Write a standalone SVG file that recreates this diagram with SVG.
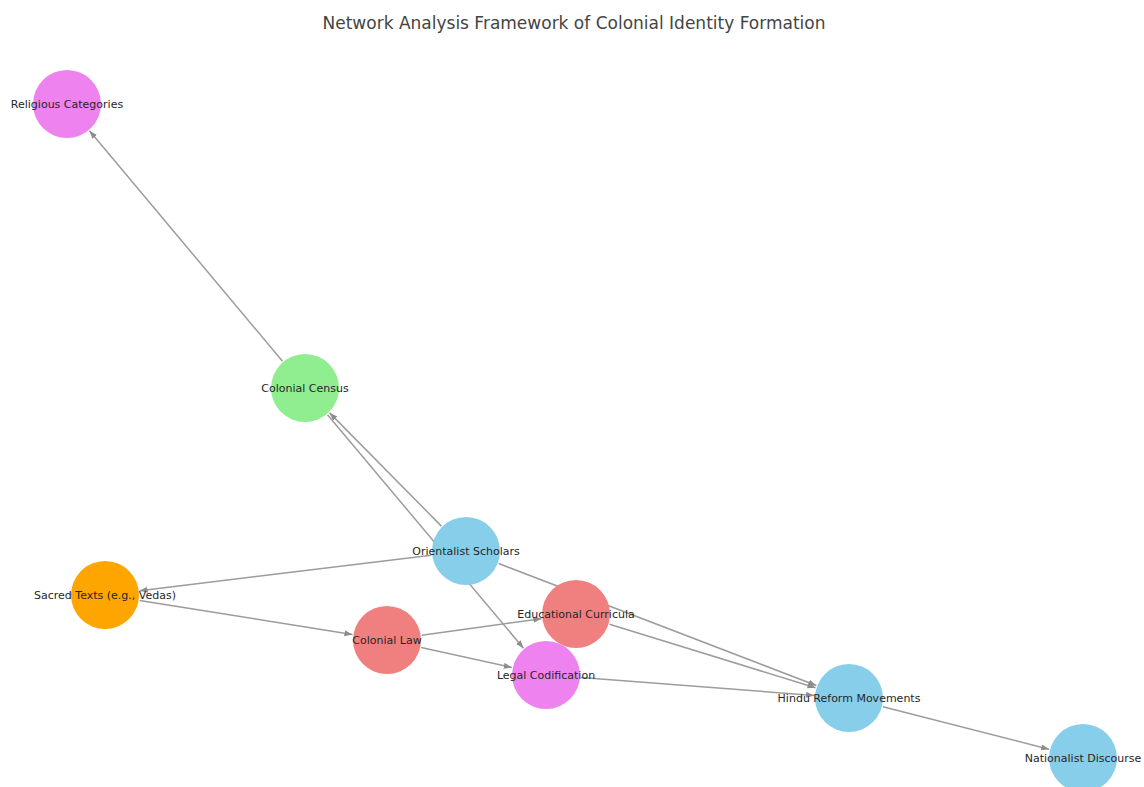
<svg xmlns="http://www.w3.org/2000/svg" width="1144" height="787" viewBox="0 0 1144 787">
  <style>
    .edge { stroke: #9c9c9c; stroke-width: 1.5; fill: none; marker-end: url(#arrow); }
    .node circle { stroke: none; }
    .node text { font-family: "DejaVu Sans", "Liberation Sans", sans-serif; font-size: 11px; fill: #262626; text-anchor: middle; }
    .title { font-family: "DejaVu Sans", "Liberation Sans", sans-serif; font-size: 17px; fill: #444444; text-anchor: middle; }
  </style>
  <defs>
    <marker id="arrow" markerUnits="userSpaceOnUse" markerWidth="10" markerHeight="8" refX="8" refY="3" orient="auto">
      <path d="M0,0 L8,3 L0,6 z" fill="#8c8c8c"/>
    </marker>
  </defs>
  <rect width="1144" height="787" fill="#ffffff"/>
  <text class="title" x="574" y="29">Network Analysis Framework of Colonial Identity Formation</text>

  <!-- directed edges, drawn beneath the nodes -->
  <g id="edges">
    <line class="edge" x1="282.5" y1="361.2" x2="89.5" y2="130.8"/>
    <line class="edge" x1="441.4" y1="526.1" x2="329.6" y2="412.9"/>
    <line class="edge" x1="327.5" y1="414.8" x2="523.5" y2="648.2"/>
    <line class="edge" x1="431.3" y1="555.2" x2="139.7" y2="590.8"/>
    <line class="edge" x1="139.6" y1="600.5" x2="352.4" y2="634.5"/>
    <line class="edge" x1="421.7" y1="635.2" x2="541.3" y2="618.8"/>
    <line class="edge" x1="421.2" y1="647.5" x2="511.8" y2="667.5"/>
    <line class="edge" x1="498.7" y1="563.5" x2="816.3" y2="685.5"/>
    <line class="edge" x1="609.5" y1="624.3" x2="815.5" y2="687.7"/>
    <line class="edge" x1="580.9" y1="677.6" x2="814.1" y2="695.4"/>
    <line class="edge" x1="882.9" y1="706.7" x2="1049.1" y2="749.3"/>
  </g>

  <g id="religious-categories" class="node">
    <circle cx="67" cy="104" r="34" fill="#ee82ee"/>
    <text x="67" y="108">Religious Categories</text>
  </g>
  <g id="colonial-census" class="node">
    <circle cx="305" cy="388" r="34" fill="#90ee90"/>
    <text x="305" y="392">Colonial Census</text>
  </g>
  <g id="orientalist-scholars" class="node">
    <circle cx="466" cy="551" r="34" fill="#87ceeb"/>
    <text x="466" y="555">Orientalist Scholars</text>
  </g>
  <g id="sacred-texts" class="node">
    <circle cx="105" cy="595" r="34" fill="#ffa500"/>
    <text x="105" y="599">Sacred Texts (e.g., Vedas)</text>
  </g>
  <g id="colonial-law" class="node">
    <circle cx="387" cy="640" r="34" fill="#f08080"/>
    <text x="387" y="644">Colonial Law</text>
  </g>
  <g id="educational-curricula" class="node">
    <circle cx="576" cy="614" r="34" fill="#f08080"/>
    <text x="576" y="618">Educational Curricula</text>
  </g>
  <g id="legal-codification" class="node">
    <circle cx="546" cy="675" r="34" fill="#ee82ee"/>
    <text x="546" y="679">Legal Codification</text>
  </g>
  <g id="hindu-reform-movements" class="node">
    <circle cx="849" cy="698" r="34" fill="#87ceeb"/>
    <text x="849" y="702">Hindu Reform Movements</text>
  </g>
  <g id="nationalist-discourse" class="node">
    <circle cx="1083" cy="758" r="34" fill="#87ceeb"/>
    <text x="1083" y="762">Nationalist Discourse</text>
  </g>
</svg>
